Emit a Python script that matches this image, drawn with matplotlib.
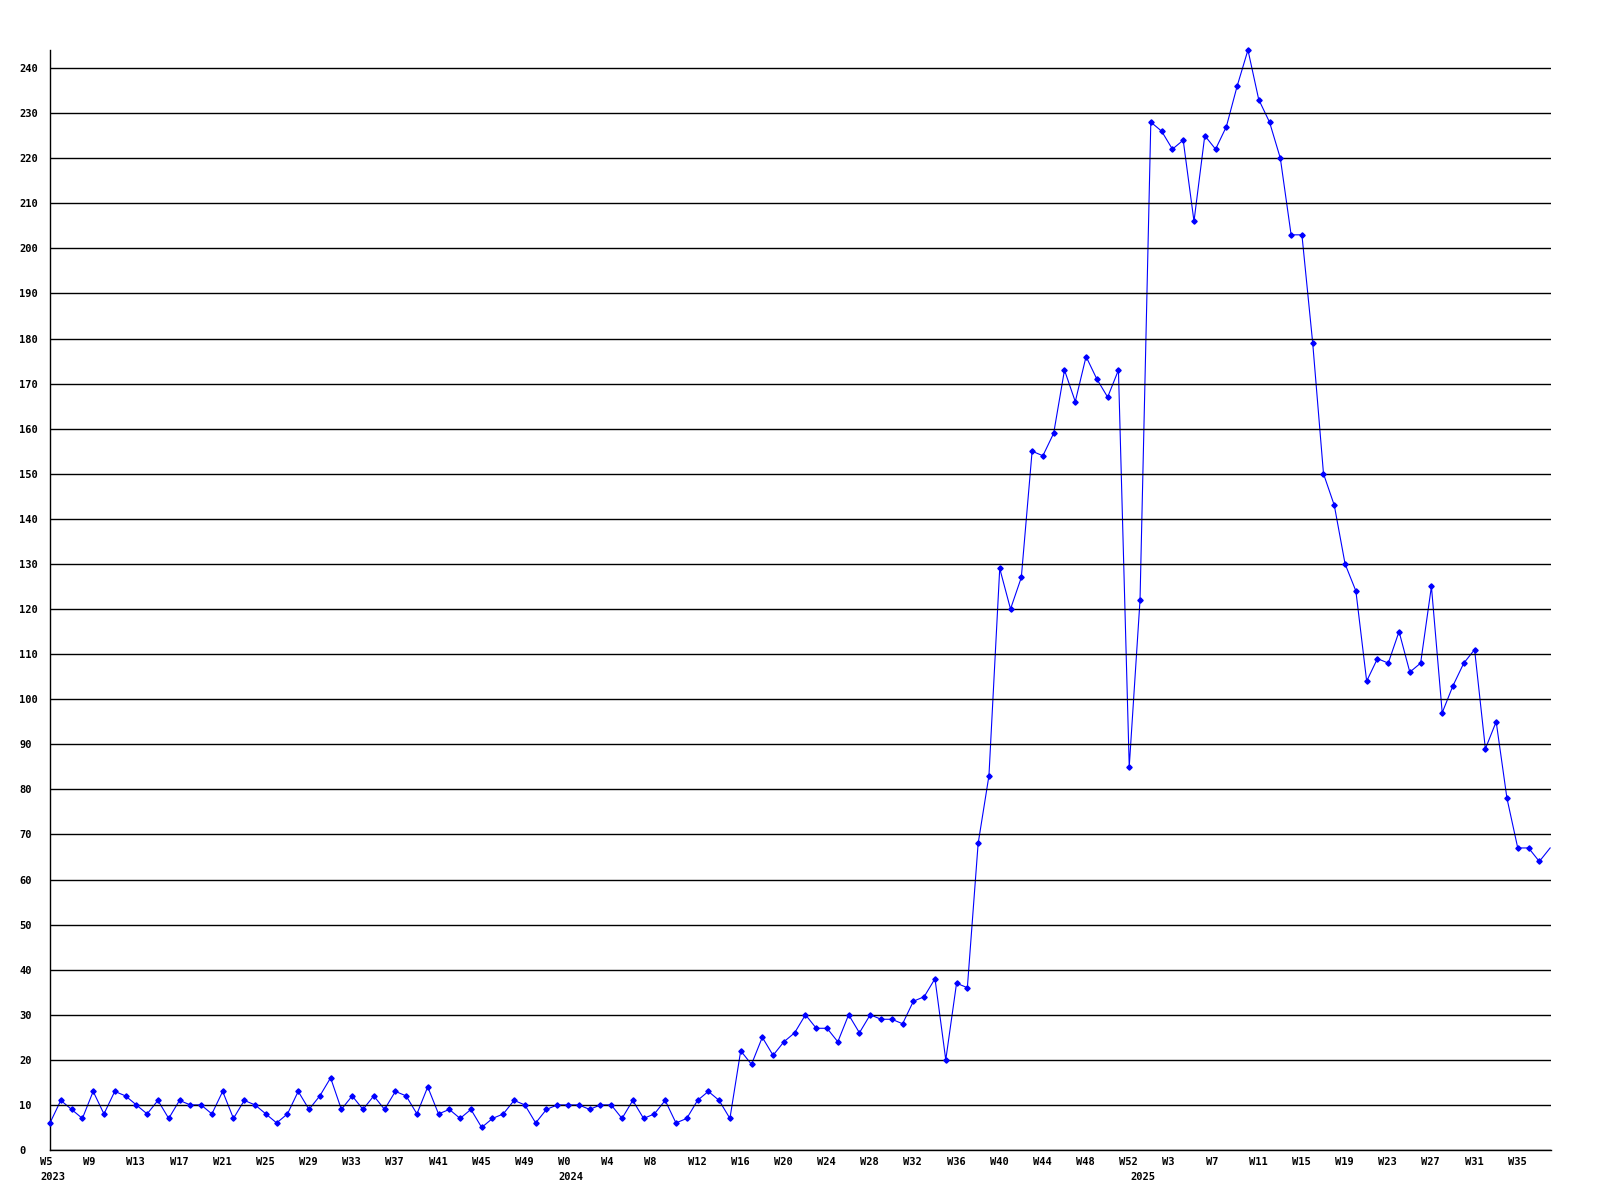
import numpy as np
import matplotlib.pyplot as plt
from matplotlib.transforms import ScaledTranslation

plt.rcParams['font.family'] = ['DejaVu Sans Mono', 'DejaVu Sans']
plt.rcParams['font.weight'] = 'bold'

# ============================================================
# Data: weekly counts, 2023 W5 .. 2025 W38
# ============================================================
weeks_2023 = [5, 6, 7, 8, 9, 10, 11, 12, 13, 14, 15, 16, 17, 18, 19, 20, 21, 22, 23, 24,
              25, 26, 27, 28, 29, 30, 31, 32, 33, 34, 35, 36, 37, 38, 39, 40, 41, 42, 43, 44,
              45, 46, 47, 48, 49, 50, 51, 52]
vals_2023 = [6, 11, 9, 7, 13, 8, 13, 12, 10, 8, 11, 7, 11, 10, 10, 8, 13, 7, 11, 10,
             8, 6, 8, 13, 9, 12, 16, 9, 12, 9, 12, 9, 13, 12, 8, 14, 8, 9, 7, 9,
             5, 7, 8, 11, 10, 6, 9, 10]

weeks_2024 = [0, 1, 2, 3, 4, 5, 6, 7, 8, 9, 10, 11, 12, 13, 14, 15, 16, 17, 18, 19,
              20, 21, 22, 23, 24, 25, 26, 27, 28, 29, 30, 31, 32, 33, 34, 35, 36, 37, 38, 39,
              40, 41, 42, 43, 44, 45, 46, 47, 48, 49, 50, 51, 52]
vals_2024 = [10, 10, 9, 10, 10, 7, 11, 7, 8, 11, 6, 7, 11, 13, 11, 7,
             22, 19, 25, 21, 24, 26, 30, 27, 27, 24, 30, 26, 30, 29, 29, 28,
             33, 34, 38, 20, 37, 36, 68, 83, 129, 120, 127, 155, 154, 159, 173, 166,
             176, 171, 167, 173, 85]

weeks_2025 = [0, 1, 2, 3, 4, 5, 6, 7, 8, 9, 10, 11, 12, 13, 14, 15, 16, 17, 18, 19,
              20, 21, 22, 23, 24, 25, 26, 27, 28, 29, 30, 31, 32, 33, 34, 35, 36, 37, 38]
vals_2025 = [122, 228, 226, 222, 224, 206, 225, 222, 227, 236, 244, 233, 228, 220, 203, 203,
             179, 150, 143, 130, 124, 104, 109, 108, 115, 106, 108, 125, 97, 103, 108, 111,
             89, 95, 78, 67, 67, 64, 67]

years = ['2023', '2024', '2025']

weeks = weeks_2023 + weeks_2024 + weeks_2025
values = np.array(vals_2023 + vals_2024 + vals_2025)
x = np.arange(len(values))
year_start = [0, len(weeks_2023), len(weeks_2023) + len(weeks_2024)]

# ============================================================
# Figure
# ============================================================
fig = plt.figure(figsize=(16, 12), dpi=100)
fig.set_facecolor('white')
ax = fig.add_axes([50 / 1600, 50 / 1200, 1501 / 1600, 1100 / 1200])
ax.set_facecolor('white')

x_max = 139.08
ax.set_xlim(0, x_max)
ax.set_ylim(0, 244)

# line under the grid, markers on top (as in the original);
# the last (partial) week has no marker in the original
ax.plot(x, values, color='#0000FF', linewidth=0.8, zorder=1)
shown = x < len(values) - 1
ax.plot(x[shown], values[shown], linestyle='none', marker='D', markersize=2.7,
        color='#0000FF', zorder=3, clip_on=False)

ax.set_axisbelow(False)
ax.set_yticks(np.arange(0, 250, 10))
ax.yaxis.grid(True, color='black', linewidth=1.0)
ax.tick_params(axis='y', length=0, pad=22, labelsize=7.5)
for lbl in ax.get_yticklabels():
    lbl.set_horizontalalignment('left')

tick_idx = x[::4][x[::4] <= x_max]
ax.set_xticks(tick_idx)
ax.set_xticklabels(['W%d' % weeks[i] for i in tick_idx])
ax.tick_params(axis='x', length=0, pad=5, labelsize=7.5)
shift = ScaledTranslation(-10 / 100, 0, fig.dpi_scale_trans)
for lbl in ax.get_xticklabels():
    lbl.set_horizontalalignment('left')
    lbl.set_transform(lbl.get_transform() + shift)

for yr, i in zip(years, year_start):
    ax.annotate(yr, xy=(i, 0), xycoords=('data', 'axes fraction'),
                xytext=(-10, -27), textcoords='offset pixels',
                ha='left', va='center', fontsize=7.5, fontweight='bold')

for side in ['top', 'right']:
    ax.spines[side].set_visible(False)
ax.spines['left'].set_color('black')
ax.spines['bottom'].set_color('black')
ax.spines['left'].set_linewidth(1.0)
ax.spines['bottom'].set_linewidth(1.0)

fig.savefig('out.png', dpi=100, facecolor='white')
plt.close(fig)
